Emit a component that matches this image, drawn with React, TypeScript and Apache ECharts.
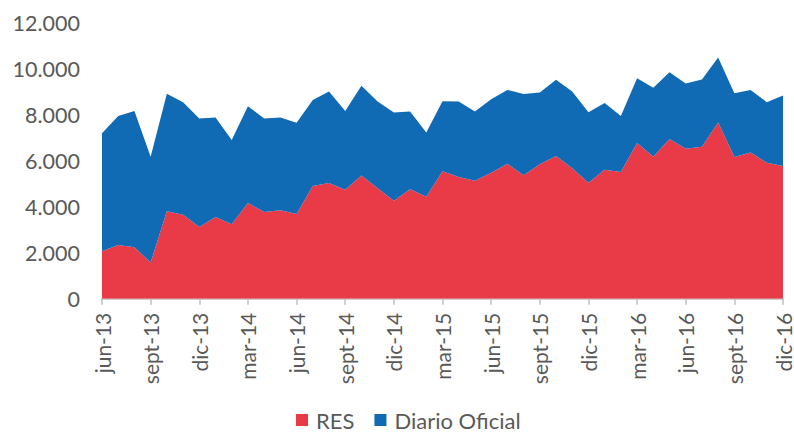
import React, { useEffect, useRef } from "react";
import * as echarts from "echarts";

const months = ["jun", "jul", "ago", "sept", "oct", "nov", "dic", "ene", "feb", "mar", "abr", "may"];
// categories: jun-13 .. dic-16 (year changes at "ene")
const catList: string[] = (() => {
  const out: string[] = [];
  let m = 0;
  let y = 13;
  for (let i = 0; i < 43; i++) {
    out.push(months[m] + "-" + y);
    m = (m + 1) % 12;
    if (months[m] === "ene") y++;
  }
  return out;
})();

const resValues = [
  2060, 2330, 2230, 1570, 3800, 3650, 3120, 3550, 3230, 4160, 3770, 3840,
  3680, 4900, 5030, 4730, 5350, 4800, 4260, 4760, 4430, 5540, 5290, 5120,
  5470, 5860, 5360, 5840, 6200, 5670, 5040, 5600, 5500, 6760, 6170, 6940,
  6510, 6600, 7650, 6160, 6350, 5910, 5760,
];
const totalValues = [
  7190, 7940, 8160, 6170, 8900, 8540, 7830, 7870, 6890, 8360, 7830, 7870,
  7640, 8630, 9000, 8160, 9250, 8570, 8090, 8130, 7220, 8580, 8570, 8130,
  8670, 9070, 8890, 8960, 9510, 9000, 8100, 8500, 7940, 9580, 9170, 9840,
  9350, 9520, 10480, 8930, 9070, 8540, 8830,
];
const diarioValues = totalValues.map((t, i) => t - resValues[i]);
const yTicks = [0, 2000, 4000, 6000, 8000, 10000, 12000];

const FONT = "Lato, 'Open Sans', sans-serif";
const TEXT = "#595959";

export default function App() {
  const ref = useRef<HTMLDivElement>(null);
  useEffect(() => {
    if (!ref.current) return;
    const chart = echarts.init(ref.current, null, { renderer: "svg" });
    chart.setOption({
      animation: false,
      grid: { left: 102, right: 11, top: 22.5, bottom: 137.3, containLabel: false },
      legend: {
        bottom: 0,
        left: 291,
        itemWidth: 12,
        itemHeight: 12,
        itemGap: 20,
        icon: "rect",
        textStyle: { color: TEXT, fontSize: 22, fontFamily: FONT, padding: [0, 0, 0, 3] },
        data: ["RES", "Diario Oficial"],
      },
      xAxis: {
        type: "category",
        data: catList,
        boundaryGap: false,
        axisLine: { lineStyle: { color: "#BFBFBF", width: 1.5 } },
        axisTick: { show: true, interval: 2, length: 6, lineStyle: { color: "#BFBFBF", width: 1.5 } },
        axisLabel: {
          interval: 2,
          rotate: 90,
          margin: 14,
          color: TEXT,
          fontSize: 21,
          fontFamily: FONT,
        },
      },
      yAxis: {
        type: "value",
        min: yTicks[0],
        max: yTicks[yTicks.length - 1],
        interval: 2000,
        axisLine: { show: false },
        axisTick: { show: false },
        splitLine: { show: false },
        axisLabel: {
          margin: 22,
          color: TEXT,
          fontSize: 21.5,
          fontFamily: FONT,
          formatter: (v: number) => (v === 0 ? "0" : v.toLocaleString("de-DE")),
        },
      },
      series: [
        {
          name: "RES",
          type: "line",
          stack: "total",
          data: resValues,
          symbol: "none",
          lineStyle: { width: 0 },
          itemStyle: { color: "#E93B47" },
          areaStyle: { color: "#E93B47", opacity: 1 },
        },
        {
          name: "Diario Oficial",
          type: "line",
          stack: "total",
          data: diarioValues,
          symbol: "none",
          lineStyle: { width: 0 },
          itemStyle: { color: "#116AB4" },
          areaStyle: { color: "#116AB4", opacity: 1 },
        },
      ],
    });
    return () => chart.dispose();
  }, []);
  return <div ref={ref} style={{ width: 794, height: 436, position: "absolute", left: 0, top: 0 }} />;
}
